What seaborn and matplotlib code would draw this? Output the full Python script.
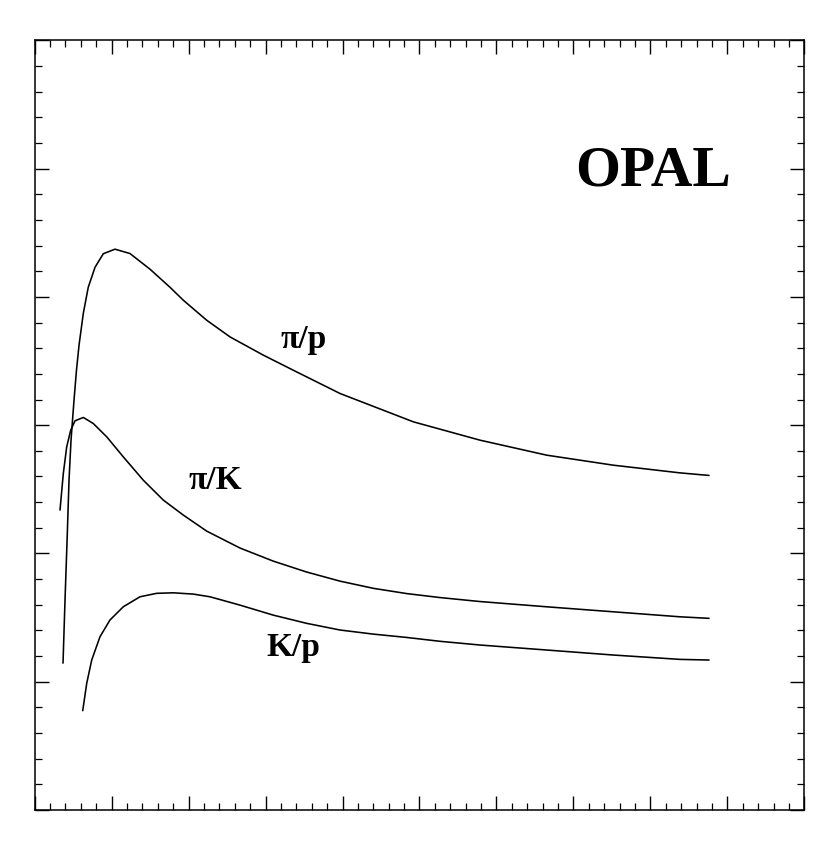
import numpy as np
import pandas as pd
import seaborn as sns
import matplotlib.pyplot as plt
from matplotlib.ticker import MultipleLocator

# curves (x, ratio) in axis units
pi_p_x = [0.368, 0.394, 0.424, 0.446, 0.472, 0.511, 0.543, 0.576, 0.632, 0.696,
          0.784, 0.891, 1.043, 1.238, 1.498, 1.758, 1.931, 2.235, 2.538, 2.970,
          3.404, 3.967, 4.920, 5.786, 6.653, 7.518, 8.385, 8.762]
pi_p_y = [1.145, 1.636, 2.158, 2.571, 2.883, 3.195, 3.429, 3.623, 3.873, 4.075,
          4.231, 4.336, 4.372, 4.338, 4.216, 4.075, 3.974, 3.818, 3.688, 3.546,
          3.415, 3.247, 3.026, 2.883, 2.766, 2.688, 2.628, 2.608]

pi_k_x = [0.329, 0.372, 0.416, 0.468, 0.524, 0.632, 0.761, 0.936, 1.151, 1.411,
          1.671, 1.931, 2.235, 2.668, 3.100, 3.534, 3.967, 4.400, 4.834, 5.266,
          5.786, 6.653, 7.518, 8.385, 8.762]
pi_k_y = [2.338, 2.624, 2.831, 2.961, 3.034, 3.060, 3.013, 2.909, 2.753, 2.571,
          2.416, 2.299, 2.174, 2.042, 1.940, 1.855, 1.784, 1.728, 1.687, 1.656,
          1.625, 1.584, 1.545, 1.506, 1.494]

k_p_x = [0.624, 0.676, 0.741, 0.848, 0.978, 1.151, 1.368, 1.585, 1.801, 2.061,
         2.278, 2.668, 3.100, 3.534, 3.967, 4.400, 4.834, 5.266, 5.786, 6.653,
         7.518, 8.385, 8.762]
k_p_y = [0.774, 0.987, 1.169, 1.350, 1.481, 1.584, 1.662, 1.689, 1.693, 1.683,
         1.662, 1.597, 1.519, 1.455, 1.403, 1.371, 1.345, 1.315, 1.286, 1.247,
         1.208, 1.174, 1.169]

labels = ['π/p', 'π/K', 'K/p']
label_pos = [(3.196, 3.600), (1.996, 2.505), (3.015, 1.200)]

df = pd.concat([
    pd.DataFrame({'x': pi_p_x, 'y': pi_p_y, 'ratio': 'π/p'}),
    pd.DataFrame({'x': pi_k_x, 'y': pi_k_y, 'ratio': 'π/K'}),
    pd.DataFrame({'x': k_p_x, 'y': k_p_y, 'ratio': 'K/p'}),
])

sns.set_style('ticks')
plt.rcParams['font.family'] = ['Liberation Serif', 'DejaVu Serif']

fig = plt.figure(figsize=(8.4, 8.51), dpi=100)
ax = fig.add_axes([0.0413, 0.0482, 0.9162, 0.9044])

sns.lineplot(data=df, x='x', y='y', units='ratio', estimator=None, sort=False,
             color='black', linewidth=1.15, ax=ax, legend=False)

ax.set_xlim(0, 10)
ax.set_ylim(0, 6)
ax.xaxis.set_major_locator(MultipleLocator(1))
ax.xaxis.set_minor_locator(MultipleLocator(0.2))
ax.yaxis.set_major_locator(MultipleLocator(1))
ax.yaxis.set_minor_locator(MultipleLocator(0.2))
ax.tick_params(which='both', direction='in', top=True, right=True,
               labelbottom=False, labelleft=False, color='black')
ax.tick_params(which='major', length=10, width=1.0)
ax.tick_params(which='minor', length=5, width=0.9)
for sp in ax.spines.values():
    sp.set_linewidth(1.1)
    sp.set_color('black')
ax.set_xlabel('')
ax.set_ylabel('')

for lab, (tx, ty) in zip(labels, label_pos):
    ax.text(tx, ty, lab, fontsize=24, fontweight='bold', color='black',
            ha='left', va='baseline')
ax.text(7.02, 4.87, 'OPAL', fontsize=41.5, fontweight='bold', color='black',
        ha='left', va='baseline')

fig.savefig('out.png', dpi=100, facecolor='white')
